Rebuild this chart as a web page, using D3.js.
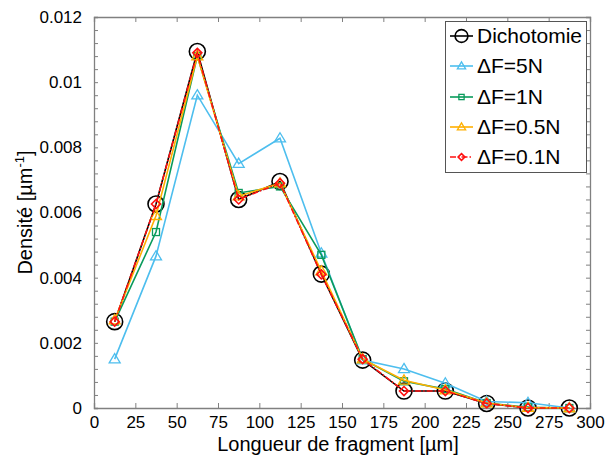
<!DOCTYPE html>
<html><head><meta charset="utf-8">
<script src="https://cdn.jsdelivr.net/npm/d3@7"></script>
<style>
body{margin:0;background:#fff;}
text{font-family:"Liberation Sans",Arial,sans-serif;fill:#000;}
</style></head>
<body><svg id="chart" width="608" height="459"></svg>
<script>
const xVals = [12.5, 37.5, 62.5, 87.5, 112.5, 137.5, 162.5, 187.5, 212.5, 237.5, 262.5, 287.5];
const dicho = [0.00265, 0.00626, 0.01094, 0.0064, 0.00695, 0.00411, 0.00147, 0.00052, 0.00052, 0.00014, 0.0, 0.0];
const df5   = [0.0015, 0.00466, 0.0096, 0.0075, 0.00828, 0.00475, 0.00147, 0.0012, 0.00076, 0.0002, 0.00016, 0.0];
const df1   = [0.00265, 0.0054, 0.0108, 0.0066, 0.0068, 0.0047, 0.0015, 0.00082, 0.00058, 0.00015, 0.00002, 0.0];
const df05  = [0.0027, 0.0059, 0.0108, 0.0065, 0.0069, 0.0042, 0.0015, 0.00085, 0.00055, 0.00015, 0.00001, 0.0];
const df01  = [0.00265, 0.00626, 0.0109, 0.0064, 0.0069, 0.0041, 0.0015, 0.00052, 0.00052, 0.00014, 0.0, 0.0];
const seriesNames = ["Dichotomie", "\u0394F=5N", "\u0394F=1N", "\u0394F=0.5N", "\u0394F=0.1N"];
const xTicks = [0, 25, 50, 75, 100, 125, 150, 175, 200, 225, 250, 275, 300];
const yTicks = [0, 0.002, 0.004, 0.006, 0.008, 0.01, 0.012];

const series = [
  {name: seriesNames[0], values: dicho, color: "#000000", marker: "circle", dash: null},
  {name: seriesNames[1], values: df5, color: "#4dbeee", marker: "triangle", dash: null},
  {name: seriesNames[2], values: df1, color: "#0a9b5c", marker: "square", dash: null},
  {name: seriesNames[3], values: df05, color: "#ffb000", marker: "triangle", dash: null},
  {name: seriesNames[4], values: df01, color: "#ff1010", marker: "diamond", dash: "6,2,1.5,2"}
];

const L = 94, R = 590, T = 17, B = 408;
const svg = d3.select("#chart");
const x = d3.scaleLinear().domain([0, 300]).range([L, R]);
const y = d3.scaleLinear().domain([0, 0.012]).range([B, T]);

const axisColor = "#808080";
const minorY = d3.range(0, 0.01201, 0.0004);
const fmtY = d => {
  const isMajor = yTicks.some(t => Math.abs(t - d) < 1e-9);
  return isMajor ? String(+d.toFixed(3)) : "";
};

// axes
const gL = svg.append("g").attr("transform", `translate(${L},0)`)
  .call(d3.axisLeft(y).tickValues(minorY).tickFormat(fmtY).tickSize(-4).tickPadding(12));
const gR = svg.append("g").attr("transform", `translate(${R},0)`)
  .call(d3.axisRight(y).tickValues(minorY).tickFormat("").tickSize(-4));
const gB = svg.append("g").attr("transform", `translate(0,${B})`)
  .call(d3.axisBottom(x).tickValues(xTicks).tickFormat(d3.format("d")).tickSize(-5).tickPadding(8));
const gT = svg.append("g").attr("transform", `translate(0,${T})`)
  .call(d3.axisTop(x).tickValues(xTicks).tickFormat("").tickSize(-5));
[gL, gR, gB, gT].forEach(g => {
  g.select(".domain").attr("stroke", axisColor).attr("stroke-width", 1.3);
  g.selectAll(".tick line").attr("stroke", axisColor).attr("stroke-width", 1);
  g.selectAll(".tick text").attr("font-size", 17).attr("font-family", "Liberation Sans, Arial, sans-serif").attr("fill", "#000");
});

// axis titles
svg.append("text").attr("x", (L + R) / 2 - 4).attr("y", 451).attr("text-anchor", "middle")
  .attr("font-size", 20).text("Longueur de fragment [\u00b5m]");
const yl = svg.append("text").attr("transform", `translate(32,${(T + B) / 2}) rotate(-90)`)
  .attr("text-anchor", "middle").attr("font-size", 20);
yl.append("tspan").text("Densit\u00e9 [\u00b5m");
yl.append("tspan").attr("dy", -8).attr("font-size", 13).text("-1");
yl.append("tspan").attr("dy", 8).text("]");

function drawMarker(g, type, cx, cy, color, scale) {
  const s = scale || 1;
  if (type === "circle") {
    g.append("circle").attr("cx", cx).attr("cy", cy).attr("r", 8 * s)
      .attr("fill", "none").attr("stroke", color).attr("stroke-width", 1.6);
  } else if (type === "triangle") {
    const h = 5 * s;
    g.append("path").attr("d", `M${cx},${cy - h * 1.1}L${cx + h * 1.1},${cy + h * 0.75}L${cx - h * 1.1},${cy + h * 0.75}Z`)
      .attr("fill", "none").attr("stroke", color).attr("stroke-width", 1.3);
  } else if (type === "square") {
    const h = 3.5 * s;
    g.append("rect").attr("x", cx - h).attr("y", cy - h).attr("width", 2 * h).attr("height", 2 * h)
      .attr("fill", "none").attr("stroke", color).attr("stroke-width", 1.3);
  } else if (type === "diamond") {
    const h = 4.5 * s;
    g.append("path").attr("d", `M${cx},${cy - h}L${cx + h},${cy}L${cx},${cy + h}L${cx - h},${cy}Z`)
      .attr("fill", "none").attr("stroke", color).attr("stroke-width", 1.6);
  }
}

const line = d3.line().x(d => x(d[0])).y(d => y(d[1]));
const plot = svg.append("g");
series.forEach(s => {
  const pts = xVals.map((xv, i) => [xv, s.values[i]]);
  const g = plot.append("g");
  g.append("path").attr("d", line(pts)).attr("fill", "none").attr("stroke", s.color)
    .attr("stroke-width", 1.6).attr("stroke-dasharray", s.dash);
  pts.forEach(p => drawMarker(g, s.marker, x(p[0]), y(p[1]), s.color));
});

// legend
const lg = svg.append("g");
lg.append("rect").attr("x", 445.5).attr("y", 21.5).attr("width", 141).attr("height", 151)
  .attr("fill", "#fff").attr("stroke", "#555").attr("stroke-width", 1);
const legendY = [36, 66, 97, 127, 157];
series.forEach((s, i) => {
  const ly = legendY[i];
  lg.append("line").attr("x1", 450).attr("x2", 473).attr("y1", ly).attr("y2", ly)
    .attr("stroke", s.color).attr("stroke-width", 1.6).attr("stroke-dasharray", s.dash);
  drawMarker(lg, s.marker, 461.5, ly, s.color, s.marker === "circle" ? 0.8 : 0.75);
  lg.append("text").attr("x", 477).attr("y", ly + 7).attr("font-size", 21).text(s.name);
});
</script></body></html>
